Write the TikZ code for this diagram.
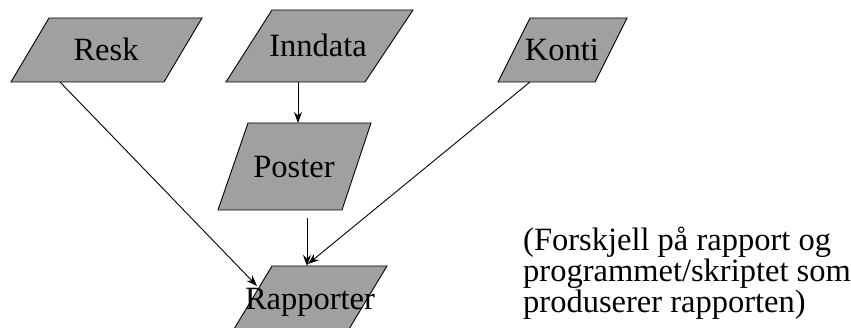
\documentclass[tikz,border=0pt]{standalone}
\usepackage{fontspec}
\setmainfont{Liberation Serif}
\usetikzlibrary{arrows.meta}
\definecolor{boxgray}{RGB}{160,160,160}
\tikzset{
  databox/.style={draw=black, fill=boxgray, line width=0.9pt, line join=miter},
  lbl/.style={inner sep=0pt, font=\fontsize{32.5}{30}\selectfont},
  flow/.style={draw=black, line width=0.9pt, -{Stealth[length=11pt,width=8pt]}}
}
\begin{document}
\begin{tikzpicture}[x=1pt,y=-1pt]
\useasboundingbox (0,0) rectangle (851,328);
\clip (0,0) rectangle (851,328);
% shapes
\draw[databox] (49,18) -- (202,18) -- (164,82) -- (11,82) -- cycle;
\draw[databox] (272,10) -- (413,10) -- (365,82) -- (226,82) -- cycle;
\draw[databox] (530,18) -- (627,18) -- (595,82) -- (498,82) -- cycle;
\draw[databox] (248,123) -- (371,123) -- (342,210) -- (218,210) -- cycle;
\draw[databox] (272,266) -- (387,266) -- (340,344) -- (225,344) -- cycle;
% labels
\node[lbl, anchor=base] (resk) at (106,61) {Resk};
\node[lbl, anchor=base] (inndata) at (318,57) {Inndata};
\node[lbl, anchor=base] (konti) at (562,61) {Konti};
\node[lbl, anchor=base] (poster) at (294,178) {Poster};
% connector anchor points
\coordinate (reskB) at (60,82);
\coordinate (inndataB) at (298,82);
\coordinate (posterT) at (298,123);
\coordinate (posterB) at (307,218);
\coordinate (kontiB) at (530,82);
\coordinate (rapT) at (307,266);
\coordinate (rapL) at (257,286);
\coordinate (rapR) at (308,264);
% connectors
\draw[flow] (inndataB) -- (posterT);
\draw[flow] (posterB) -- (rapT);
\draw[flow] (reskB) -- (rapL);
\draw[flow] (kontiB) -- (rapR);
\node[lbl, anchor=base] (rapporter) at (310,310) {Rapporter};
% note
\node[lbl, anchor=base west] (note1) at (523,251) {(Forskjell på rapport og};
\node[lbl, anchor=base west] (note2) at (523,282) {programmet/skriptet som};
\node[lbl, anchor=base west] (note3) at (523,313) {produserer rapporten)};
\end{tikzpicture}
\end{document}
